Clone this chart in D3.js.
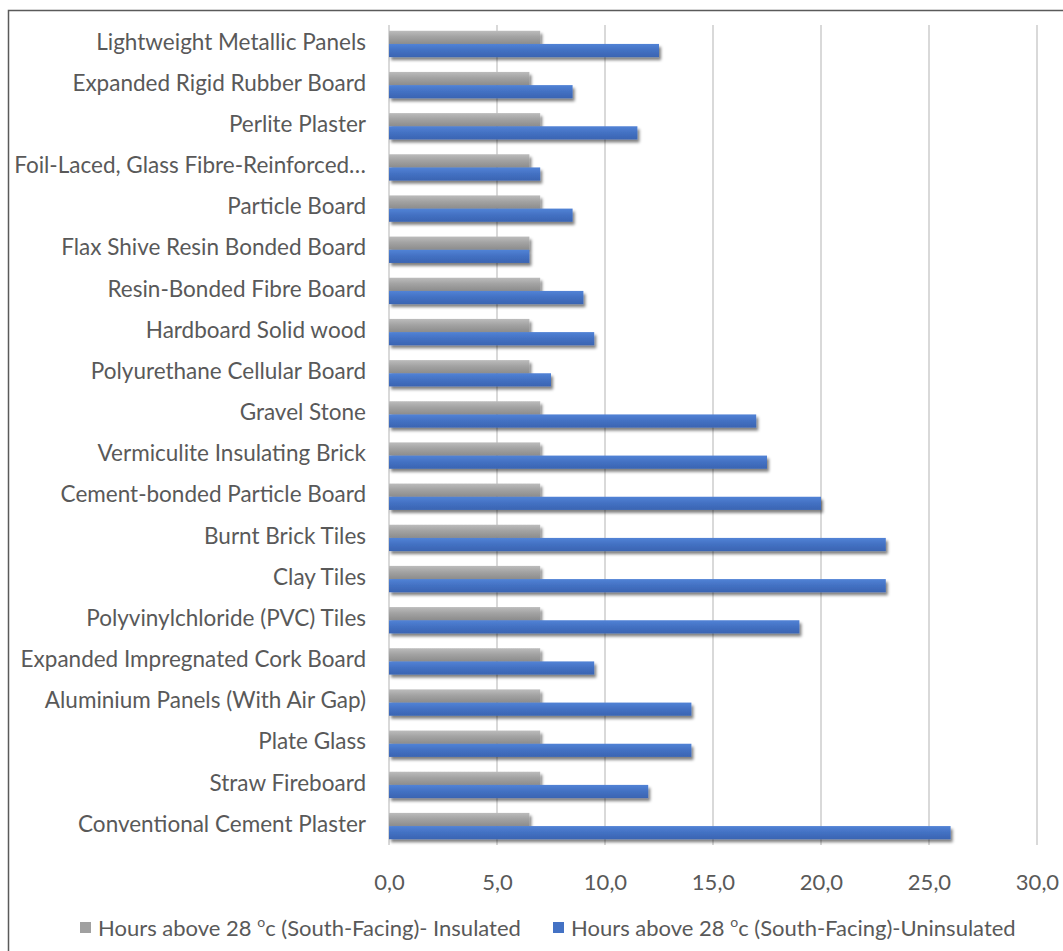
<!DOCTYPE html>
<html>
<head>
<meta charset="utf-8">
<script src="https://cdn.jsdelivr.net/npm/d3@7/dist/d3.min.js"></script>
<style>
  html, body { margin: 0; padding: 0; background: #fff; }
  svg { display: block; }
</style>
</head>
<body>
<svg id="chart" width="1063" height="951"></svg>
<script>
// Materials, listed top to bottom as they appear on the chart
const categories = [
  "Lightweight Metallic Panels",
  "Expanded Rigid Rubber Board",
  "Perlite Plaster",
  "Foil-Laced, Glass Fibre-Reinforced…",
  "Particle Board",
  "Flax Shive Resin Bonded Board",
  "Resin-Bonded Fibre Board",
  "Hardboard Solid wood",
  "Polyurethane Cellular Board",
  "Gravel Stone",
  "Vermiculite Insulating Brick",
  "Cement-bonded Particle Board",
  "Burnt Brick Tiles",
  "Clay Tiles",
  "Polyvinylchloride (PVC) Tiles",
  "Expanded Impregnated Cork Board",
  "Aluminium Panels (With Air Gap)",
  "Plate Glass",
  "Straw Fireboard",
  "Conventional Cement Plaster"
];

// Hours above 28 °C, south-facing room
const insulated = [7, 6.5, 7, 6.5, 7, 6.5, 7, 6.5, 6.5, 7, 7, 7, 7, 7, 7, 7, 7, 7, 7, 6.5];
const uninsulated = [12.5, 8.5, 11.5, 7, 8.5, 6.5, 9, 9.5, 7.5, 17, 17.5, 20, 23, 23, 19, 9.5, 14, 14, 12, 26];

const seriesNames = ["insulated", "uninsulated"];
const xTicks = [0, 5, 10, 15, 20, 25, 30];

const svg = d3.select("#chart");
const defs = svg.append("defs");

// Soft drop shadow under each bar
const shadow = defs.append("filter").attr("id", "barShadow")
  .attr("x", "-5%").attr("y", "-40%").attr("width", "115%").attr("height", "200%");
shadow.append("feGaussianBlur").attr("in", "SourceAlpha").attr("stdDeviation", 1.8).attr("result", "b");
shadow.append("feOffset").attr("in", "b").attr("dx", 2).attr("dy", 3).attr("result", "o");
shadow.append("feComponentTransfer").attr("in", "o").attr("result", "s")
  .append("feFuncA").attr("type", "linear").attr("slope", 0.5);
const merge = shadow.append("feMerge");
merge.append("feMergeNode").attr("in", "s");
merge.append("feMergeNode").attr("in", "SourceGraphic");

function gradient(id, stops) {
  const g = defs.append("linearGradient").attr("id", id)
    .attr("x1", 0).attr("y1", 0).attr("x2", 0).attr("y2", 1);
  stops.forEach(([o, c]) => g.append("stop").attr("offset", o).attr("stop-color", c));
}
gradient("gradGray", [[0, "#bcbcbc"], [0.45, "#a3a3a3"], [1, "#8c8c8c"]]);
gradient("gradBlue", [[0, "#5283d6"], [0.45, "#4472c4"], [1, "#3a64b2"]]);
const fills = { insulated: "url(#gradGray)", uninsulated: "url(#gradBlue)" };

// Chart frame
svg.append("rect").attr("x", 8.5).attr("y", 10.5).attr("width", 1100).attr("height", 1000)
  .attr("fill", "none").attr("stroke", "#5a5a5a").attr("stroke-width", 1.5);

const plot = { left: 389, right: 1037, top: 25, bottom: 845 };

const x = d3.scaleLinear().domain([0, 30]).range([plot.left, plot.right]);
const y = d3.scaleBand().domain(categories).range([plot.top, plot.bottom])
  .paddingInner(0.36).paddingOuter(0.14);
const sub = d3.scaleBand().domain(seriesNames).range([0, y.bandwidth()]);

// Vertical gridlines
svg.append("g").selectAll("line").data(xTicks.slice(1)).join("line")
  .attr("x1", d => x(d)).attr("x2", d => x(d))
  .attr("y1", plot.top).attr("y2", plot.bottom)
  .attr("stroke", "#d9d9d9").attr("stroke-width", 2);

// Category axis line
svg.append("line").attr("x1", x(0)).attr("x2", x(0))
  .attr("y1", plot.top).attr("y2", plot.bottom)
  .attr("stroke", "#d9d9d9").attr("stroke-width", 2);

// Bars
const rows = categories.map((c, i) => ({ c, insulated: insulated[i], uninsulated: uninsulated[i] }));
const groups = svg.append("g").selectAll("g").data(rows).join("g")
  .attr("transform", d => `translate(0,${y(d.c)})`);
groups.selectAll("rect")
  .data(d => seriesNames.map(k => ({ k, v: d[k] })))
  .join("rect")
  .attr("x", x(0))
  .attr("y", d => sub(d.k))
  .attr("width", d => x(d.v) - x(0))
  .attr("height", sub.bandwidth())
  .attr("fill", d => fills[d.k])
  .attr("filter", "url(#barShadow)");

// Category labels
const font = "Lato, sans-serif";
const yAxis = d3.axisLeft(y).tickSize(0).tickPadding(23);
const ya = svg.append("g").attr("transform", `translate(${x(0)},0)`).call(yAxis);
ya.select(".domain").remove();
ya.selectAll("text").attr("font-family", font).attr("font-size", 22.5)
  .attr("fill", "#595959").attr("dy", "0.25em");

// Value axis labels
const xAxis = d3.axisBottom(x).tickValues(xTicks).tickSize(0).tickPadding(29)
  .tickFormat(d => d3.format(".1f")(d).replace(".", ","));
const xa = svg.append("g").attr("transform", `translate(0,${plot.bottom})`).call(xAxis);
xa.select(".domain").remove();
xa.selectAll("text").attr("font-family", font).attr("font-size", 22).attr("fill", "#595959");

// Legend
const legend = [
  { k: "insulated", x: 80, color: "#a0a0a0", tail: "c (South-Facing)- Insulated" },
  { k: "uninsulated", x: 553, color: "#4472c4", tail: "c (South-Facing)-Uninsulated" }
];
const lg = svg.append("g").selectAll("g").data(legend).join("g")
  .attr("transform", d => `translate(${d.x},928)`);
lg.append("rect").attr("x", 0).attr("y", -6).attr("width", 11).attr("height", 11)
  .attr("fill", d => d.color);
const lt = lg.append("text").attr("x", 18).attr("y", 0).attr("dy", "0.35em")
  .attr("font-family", font).attr("font-size", 22).attr("fill", "#595959");
lt.append("tspan").text("Hours above 28 ");
lt.append("tspan").attr("font-size", 14).attr("dy", "-0.6em").text("o");
lt.append("tspan").attr("dy", "0.4em").text(d => d.tail);
</script>
</body>
</html>
